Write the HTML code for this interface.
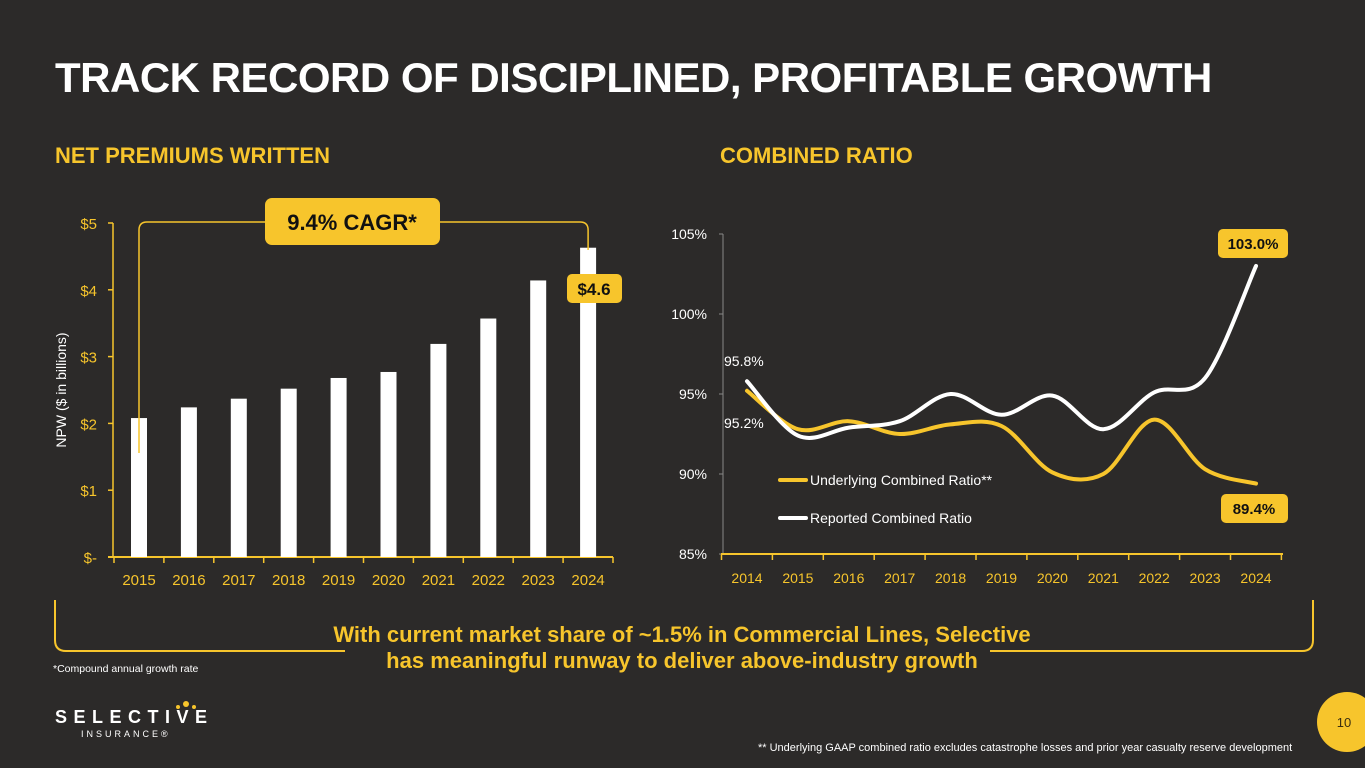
<!DOCTYPE html>
<html><head><meta charset="utf-8">
<style>
body{margin:0;width:1365px;height:768px;background:#2c2a29;overflow:hidden;font-family:"Liberation Sans",sans-serif;position:relative}
.abs{position:absolute}
</style></head>
<body>
<div class="abs" style="left:55px;top:54px;font-size:42px;font-weight:bold;color:#fff;letter-spacing:-0.5px">TRACK RECORD OF DISCIPLINED, PROFITABLE GROWTH</div>
<div class="abs" style="left:55px;top:143px;font-size:22px;font-weight:bold;color:#f7c52c">NET PREMIUMS WRITTEN</div>
<div class="abs" style="left:720px;top:143px;font-size:22px;font-weight:bold;color:#f7c52c">COMBINED RATIO</div>

<svg class="abs" style="left:0;top:0" width="1365" height="768">
  <g id="left"></g>
  <g id="right"></g>
  <path d="M55,600 V640 Q55,651 66,651 H345" fill="none" stroke="#f7c52c" stroke-width="2"/>
  <path d="M990,651 H1302 Q1313,651 1313,640 V600" fill="none" stroke="#f7c52c" stroke-width="2"/>
  <circle cx="1347" cy="722" r="30" fill="#f7c52c"/>
  <text x="1344" y="727" font-size="13" fill="#3a2f10" text-anchor="middle" font-family="Liberation Sans">10</text>
</svg>

<div class="abs" style="left:282px;top:622px;width:800px;text-align:center;font-size:22px;font-weight:bold;color:#f7c52c;line-height:26px">With current market share of ~1.5% in Commercial Lines, Selective<br>has meaningful runway to deliver above-industry growth</div>
<div class="abs" style="left:53px;top:663px;font-size:10.5px;color:#fff">*Compound annual growth rate</div>
<div class="abs" style="left:758px;top:742px;font-size:11px;color:#fff">** Underlying GAAP combined ratio excludes catastrophe losses and prior year casualty reserve development</div>
<div class="abs" style="left:55px;top:707px;color:#fff">
  <div style="font-size:18px;font-weight:bold;letter-spacing:6.5px">SELECTIVE</div>
  <div style="font-size:9px;letter-spacing:3px;margin-left:26px;margin-top:1px">INSURANCE®</div>
  <div style="position:absolute;left:128px;top:-6px;width:6px;height:6px;border-radius:50%;background:#f7c52c"></div>
  <div style="position:absolute;left:121px;top:-2px;width:4px;height:4px;border-radius:50%;background:#f7c52c"></div>
  <div style="position:absolute;left:137px;top:-2px;width:4px;height:4px;border-radius:50%;background:#f7c52c"></div>
</div>

<script>
const npwYears=["2015","2016","2017","2018","2019","2020","2021","2022","2023","2024"];
const npwValues=[2.08,2.24,2.37,2.52,2.68,2.77,3.19,3.57,4.14,4.63];
const npwTicks=[0,1,2,3,4,5];
const npwTickLabels=["$-","$1","$2","$3","$4","$5"];
const crYears=["2014","2015","2016","2017","2018","2019","2020","2021","2022","2023","2024"];
const underlying=[95.2,92.8,93.3,92.5,93.1,93.0,90.1,90.0,93.4,90.3,89.4];
const reported=[95.8,92.4,92.9,93.3,95.0,93.7,94.9,92.8,95.1,96.0,103.0];
const crTicks=[85,90,95,100,105];

const NS="http://www.w3.org/2000/svg";
const Y="#f7c52c";
function mk(p,tag,at,txt){const e=document.createElementNS(NS,tag);for(const k in at)e.setAttribute(k,at[k]);if(txt!=null)e.textContent=txt;p.appendChild(e);return e;}

// Left chart
const L=document.getElementById('left');
const ly=v=>557-v*66.8;
const lx=i=>139+i*49.9;
for(let i=0;i<npwTicks.length;i++){
  const t=mk(L,'text',{x:97,y:ly(npwTicks[i])+6,'font-size':15,fill:Y,'text-anchor':'end'},npwTickLabels[i]);
  
  
  mk(L,'line',{x1:108,x2:113,y1:ly(npwTicks[i]),y2:ly(npwTicks[i]),stroke:Y,'stroke-width':1.5});
}
mk(L,'line',{x1:113,y1:ly(5),x2:113,y2:557,stroke:Y,'stroke-width':1.5});
mk(L,'line',{x1:108,y1:557,x2:613,y2:557,stroke:Y,'stroke-width':2});
for(let i=0;i<=npwYears.length;i++){mk(L,'line',{x1:lx(i)-25,x2:lx(i)-25,y1:557,y2:563,stroke:Y,'stroke-width':1.5});}
npwValues.forEach((v,i)=>{
  const r=mk(L,'rect',{x:lx(i)-8,y:ly(v),width:16,height:557-ly(v),fill:'#fff'});
  
  
  const t=mk(L,'text',{x:lx(i),y:585,'font-size':15,fill:Y,'text-anchor':'middle'},npwYears[i]);
  
  
});
const yl=mk(L,'text',{x:0,y:0,'font-size':14,fill:'#fff','text-anchor':'middle',transform:'translate(66,390) rotate(-90)'},'NPW ($ in billions)');


const last=npwValues.length-1;
mk(L,'path',{d:`M${lx(0)},453 V230 Q${lx(0)},222 ${lx(0)+8},222 H${lx(last)-8} Q${lx(last)},222 ${lx(last)},230 V250`,fill:'none',stroke:Y,'stroke-width':1.5});
mk(L,'rect',{x:265,y:198,width:175,height:47,rx:7,fill:Y});
const cg=mk(L,'text',{x:352,y:230,'font-size':22,'font-weight':'bold',fill:'#111','text-anchor':'middle'},'9.4% CAGR*');


mk(L,'rect',{x:567,y:274,width:55,height:29,rx:5,fill:Y});
const vl=mk(L,'text',{x:594,y:295,'font-size':17,'font-weight':'bold',fill:'#111','text-anchor':'middle'},'$'+npwValues[last].toFixed(1));



// Right chart
const R=document.getElementById('right');
const ry=v=>554-(v-85)*16;
const rx=i=>747+i*50.9;
crTicks.forEach(v=>{
  const t=mk(R,'text',{x:707,y:ry(v)+5,'font-size':14,fill:'#fff','text-anchor':'end'},v+'%');
  
  
  mk(R,'line',{x1:719,x2:723,y1:ry(v),y2:ry(v),stroke:'#888','stroke-width':1});
});
mk(R,'line',{x1:723,y1:ry(105),x2:723,y2:554,stroke:'#888','stroke-width':1});
mk(R,'line',{x1:721,y1:554,x2:1283,y2:554,stroke:Y,'stroke-width':2});
for(let i=0;i<=crYears.length;i++){mk(R,'line',{x1:rx(i)-25.5,x2:rx(i)-25.5,y1:554,y2:560,stroke:Y,'stroke-width':1.5});}
crYears.forEach((y,i)=>{
  const t=mk(R,'text',{x:rx(i),y:583,'font-size':14,fill:Y,'text-anchor':'middle'},y);
  
  
});
function smooth(vals){
  const p=vals.map((v,i)=>[rx(i),ry(v)]);
  let d=`M${p[0][0]},${p[0][1]}`;
  for(let i=0;i<p.length-1;i++){
    const p0=p[Math.max(0,i-1)],p1=p[i],p2=p[i+1],p3=p[Math.min(p.length-1,i+2)];
    const c1=[p1[0]+(p2[0]-p0[0])/6,p1[1]+(p2[1]-p0[1])/6];
    const c2=[p2[0]-(p3[0]-p1[0])/6,p2[1]-(p3[1]-p1[1])/6];
    d+=` C${c1[0]},${c1[1]} ${c2[0]},${c2[1]} ${p2[0]},${p2[1]}`;
  }
  return d;
}
const lu=mk(R,'path',{d:smooth(underlying),fill:'none',stroke:Y,'stroke-width':4,'stroke-linecap':'round'});


const lr=mk(R,'path',{d:smooth(reported),fill:'none',stroke:'#fff','stroke-width':4,'stroke-linecap':'round'});


mk(R,'line',{x1:780,x2:806,y1:480,y2:480,stroke:Y,'stroke-width':4,'stroke-linecap':'round'});
const le1=mk(R,'text',{x:810,y:485,'font-size':14,fill:'#fff'},'Underlying Combined Ratio**');


mk(R,'line',{x1:780,x2:806,y1:518,y2:518,stroke:'#fff','stroke-width':4,'stroke-linecap':'round'});
const le2=mk(R,'text',{x:810,y:523,'font-size':14,fill:'#fff'},'Reported Combined Ratio');


const a1=mk(R,'text',{x:724,y:366,'font-size':14,fill:'#fff'},reported[0].toFixed(1)+'%');


const a2=mk(R,'text',{x:724,y:428,'font-size':14,fill:'#fff'},underlying[0].toFixed(1)+'%');


const n=crYears.length-1;
mk(R,'rect',{x:rx(n)-38,y:229,width:70,height:29,rx:5,fill:Y});
const b1=mk(R,'text',{x:rx(n)-3,y:249,'font-size':15,'font-weight':'bold',fill:'#111','text-anchor':'middle'},reported[n].toFixed(1)+'%');


mk(R,'rect',{x:rx(n)-35,y:494,width:67,height:29,rx:5,fill:Y});
const b2=mk(R,'text',{x:rx(n)-2,y:514,'font-size':15,'font-weight':'bold',fill:'#111','text-anchor':'middle'},underlying[n].toFixed(1)+'%');


</script>
</body></html>
